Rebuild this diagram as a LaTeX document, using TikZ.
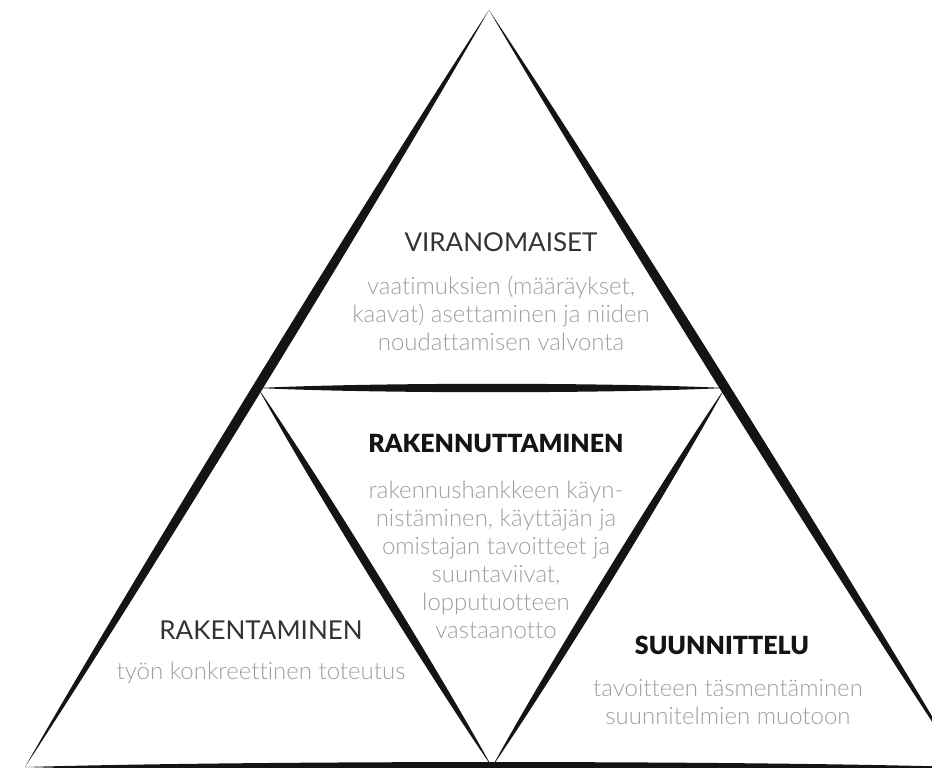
\documentclass[tikz,border=0pt]{standalone}
\usepackage{fontspec}
\setmainfont{Lato}[UprightFont=* Light,BoldFont=* Black,Ligatures=NoCommon]
\newfontfamily\headfont{Lato}[Ligatures=NoCommon]
\usetikzlibrary{positioning,calc}
\definecolor{trInk}{HTML}{141414}
\definecolor{trHead}{HTML}{333333}
\definecolor{trBody}{HTML}{9E9E9E}
\tikzset{
  brush/.style={fill=trInk},
  head/.style={inner sep=0pt,
    font=\headfont\fontsize{13}{14}\selectfont,text=trHead},
  headb/.style={inner sep=0pt,
    font=\fontsize{12.5}{14}\selectfont\bfseries,text=trInk},
  body/.style={inner sep=0pt,align=center,
    font=\fontsize{12}{14}\selectfont,text=trBody},
}

\begin{document}
\begin{tikzpicture}[x=0.5pt,y=-0.5pt]

  \useasboundingbox (0,0) rectangle (932,767);
  \clip (0,0) rectangle (932,767);

  % corners of the big triangle and the inverted middle one
  \coordinate (apex) at (489,10);
  \coordinate (bl) at (25,767);
  \coordinate (br) at (962,767);
  \coordinate (ml) at (258,388);
  \coordinate (mr) at (725,388);
  \coordinate (bm) at (492,767);

  % brush-like edges, thick in the middle and pointed at the ends
  \foreach \from/\to/\w in {apex/bl/3.3pt,apex/br/3.3pt,bl/br/3.3pt,
                            ml/mr/2.8pt,ml/bm/2.8pt,mr/bm/2.8pt}
    \fill[brush] (\from)
      .. controls ($(\from)!.25!(\to)!\w!90:(\to)$)
             and ($(\from)!.75!(\to)!\w!90:(\to)$) .. (\to)
      .. controls ($(\from)!.75!(\to)!\w!-90:(\to)$)
             and ($(\from)!.25!(\to)!\w!-90:(\to)$) .. (\from) -- cycle;

  \node[head] (viro) at (501,242) {VIRANOMAISET};
  \node[body,below=12pt of viro] (viroTxt)
    {vaatimuksien (määräykset,\\
     kaavat) asettaminen ja niiden\\
     noudattamisen valvonta};

  \node[headb] (rkt) at (496,443) {RAKENNUTTAMINEN};
  \node[body,below=14pt of rkt] (rktTxt)
    {rakennushankkeen käyn-\\
     nistäminen, käyttäjän ja\\
     omistajan tavoitteet ja\\
     suuntaviivat,\\
     lopputuotteen\\
     vastaanotto};

  \node[head] (rak) at (261,630) {RAKENTAMINEN};
  \node[body,below=11pt of rak] (rakTxt)
    {työn konkreettinen toteutus};

  \node[headb] (suu) at (722,645) {SUUNNITTELU};
  \node[body,below=12pt of suu,xshift=3pt] (suuTxt)
    {tavoitteen täsmentäminen\\
     suunnitelmien muotoon};

\end{tikzpicture}
\end{document}
